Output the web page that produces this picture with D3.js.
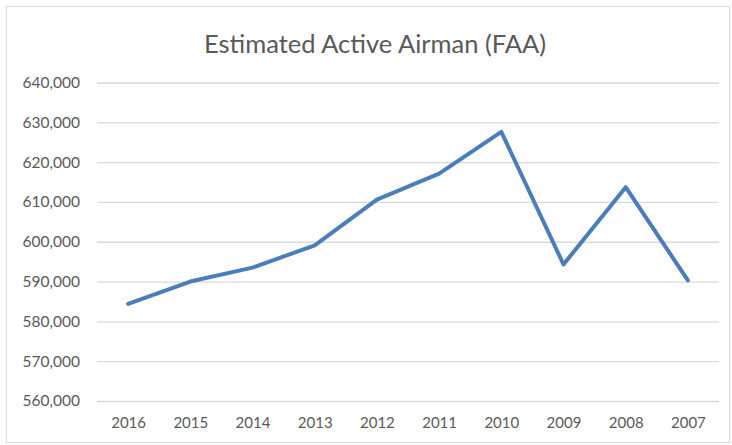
<!DOCTYPE html>
<html>
<head>
<meta charset="utf-8">
<script src="https://cdn.jsdelivr.net/npm/d3@7"></script>
<style>
  body { margin: 0; background: #fff; }
  text { font-family: Lato, "Liberation Sans", sans-serif; }
</style>
</head>
<body>
<svg id="chart"></svg>
<script>
// Chart size matches the window
const width = 732;
const height = 445;

// Data
const years = ["2016", "2015", "2014", "2013", "2012", "2011", "2010", "2009", "2008", "2007"];
const airmen = [584400, 590000, 593500, 599100, 610600, 617100, 627600, 594300, 613700, 590300];
const yTicks = [560000, 570000, 580000, 590000, 600000, 610000, 620000, 630000, 640000];

const margin = { top: 82.5, right: 13, bottom: 44, left: 97 };

const svg = d3.select("#chart")
    .attr("width", width)
    .attr("height", height);

// light chart border
svg.append("rect")
    .attr("x", 6.5)
    .attr("y", 6.5)
    .attr("width", width - 9)
    .attr("height", height - 9)
    .attr("fill", "none")
    .attr("stroke", "#d9d9d9")
    .attr("stroke-width", 1);

const x = d3.scalePoint()
    .domain(years)
    .range([margin.left, width - margin.right])
    .padding(0.5);

const y = d3.scaleLinear()
    .domain([560000, 640000])
    .range([height - margin.bottom, margin.top]);

// gridlines + y labels
const yAxis = svg.append("g")
    .attr("transform", `translate(${margin.left},0)`)
    .call(d3.axisLeft(y)
        .tickValues(yTicks)
        .tickSize(-(width - margin.left - margin.right))
        .tickPadding(17)
        .tickFormat(d3.format(",")));
yAxis.select(".domain").remove();
yAxis.selectAll(".tick line")
    .attr("stroke", "#d9d9d9")
    .attr("stroke-width", 1.3);
yAxis.selectAll(".tick text")
    .attr("fill", "#595959")
    .attr("font-size", 15.5)
    .style("font-family", "Lato, sans-serif");

// x labels
const xAxis = svg.append("g")
    .attr("transform", `translate(0,${height - margin.bottom})`)
    .call(d3.axisBottom(x).tickSize(0).tickPadding(16));
xAxis.select(".domain").remove();
xAxis.selectAll(".tick text")
    .attr("fill", "#595959")
    .attr("font-size", 15)
    .style("font-family", "Lato, sans-serif");

// the line
const line = d3.line()
    .x((d, i) => x(years[i]))
    .y(d => y(d));

svg.append("path")
    .datum(airmen)
    .attr("d", line)
    .attr("fill", "none")
    .attr("stroke", "#4a7ebb")
    .attr("stroke-width", 4)
    .attr("stroke-linejoin", "round")
    .attr("stroke-linecap", "round");

// title
svg.append("text")
    .attr("x", 375)
    .attr("y", 53)
    .attr("text-anchor", "middle")
    .attr("fill", "#595959")
    .attr("font-size", 25.5)
    .text("Estimated Active Airman (FAA)");
</script>
</body>
</html>
